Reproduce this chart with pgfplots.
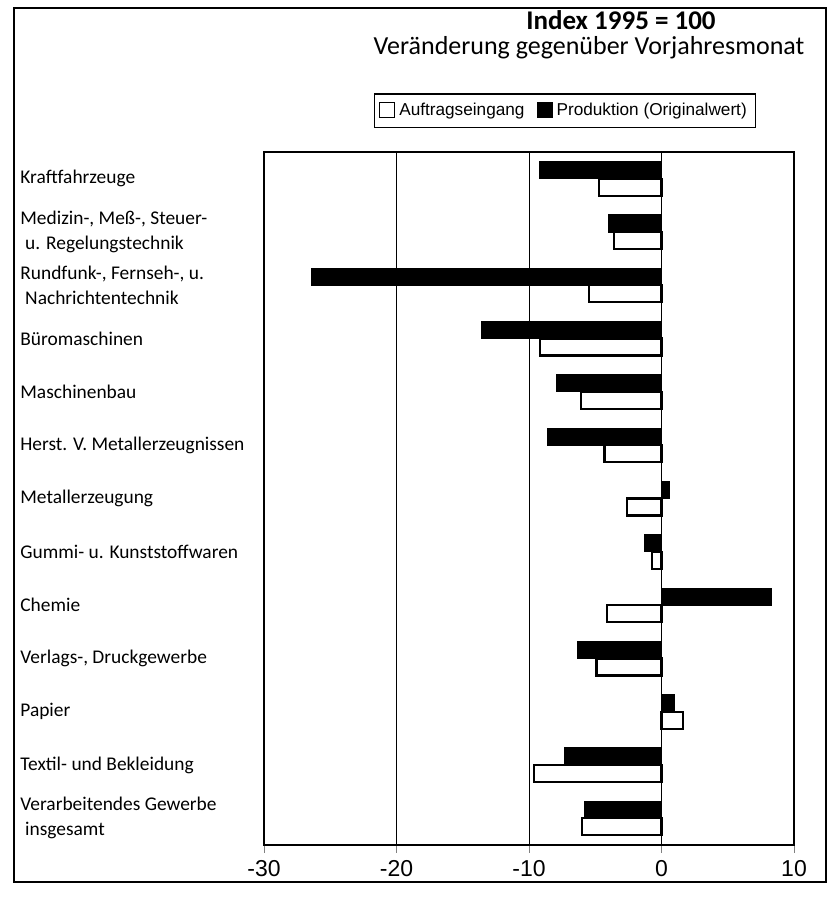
\documentclass[border=0pt]{standalone}
\usepackage{fontspec}
\setmainfont{Carlito}
\newfontfamily\arial{Liberation Sans}
\usepackage{pgfplots}
\pgfplotsset{compat=1.18}
\begin{document}
\begin{tikzpicture}
\begin{scope}[x=0.5pt,y=0.5pt]
\path (0,0) rectangle (834,903);
\draw[line width=1pt] (14,21) rectangle (826,895);
\node[font=\fontsize{13.5}{16}\selectfont\bfseries] at (621,883) {Index 1995 = 100};
\node[font=\fontsize{13}{15}\selectfont] at (589,855) {Veränderung gegenüber Vorjahresmonat};
\end{scope}
\begin{axis}[at={(132pt,29pt)}, anchor=south west, scale only axis,
  width=265pt, height=346.5pt,
  xbar, bar width=8.5pt,
  xmin=-30, xmax=10, ymin=-0.5, ymax=12.5,
  xtick={-30,-20,-10,0,10}, xticklabels={-30,-20,-10,0,10},
  xticklabel style={font=\arial\fontsize{11.5}{13}\selectfont},
  xtick pos=bottom, tick align=outside, major tick length=4pt,
  xmajorgrids, grid style={black, line width=0.5pt},
  ytick={0,...,12},
  yticklabels={{Verarbeitendes Gewerbe\\\hspace*{0.25em}insgesamt},
    {Textil- und Bekleidung},{Papier},{Verlags-, Druckgewerbe},{Chemie},
    {Gummi- u. Kunststoffwaren},{Metallerzeugung},{Herst. V. Metallerzeugnissen},
    {Maschinenbau},{Büromaschinen},
    {Rundfunk-, Fernseh-, u.\\\hspace*{0.25em}Nachrichtentechnik},
    {Medizin-, Meß-, Steuer-\\\hspace*{0.25em}u. Regelungstechnik},
    {Kraftfahrzeuge}},
  yticklabel style={font=\fontsize{9.7}{12.5}\selectfont, anchor=west,
    xshift=-118pt, inner sep=0pt, text width=122pt, align=flush left},
  ytick style={draw=none},
  axis line style={line width=1pt},
  legend style={at={(0.568,1)}, anchor=south, yshift=12pt, legend columns=2,
    font=\arial\fontsize{8.6}{10.5}\selectfont, draw=black, line width=0.6pt,
    inner sep=2.5pt,
    /tikz/every even column/.append style={column sep=4pt}},
  legend image code/.code={\draw[#1, line width=0.6pt] (0cm,-0.12cm) rectangle (0.26cm,0.14cm);},
]
\addplot[fill=white, draw=black, line width=1.1pt, bar shift=-4.25pt] coordinates {
 (-6.0,0) (-9.6,1) (1.6,2) (-4.9,3) (-4.1,4) (-0.7,5) (-2.6,6)
 (-4.3,7) (-6.1,8) (-9.2,9) (-5.5,10) (-3.6,11) (-4.7,12)};
\addlegendentry{Auftragseingang}
\addplot[fill=black, draw=black, line width=0.6pt, bar shift=4.25pt] coordinates {
 (-5.8,0) (-7.3,1) (1.0,2) (-6.3,3) (8.3,4) (-1.3,5) (0.6,6)
 (-8.6,7) (-7.9,8) (-13.6,9) (-26.4,10) (-4.0,11) (-9.2,12)};
\addlegendentry{Produktion (Originalwert)}
\pgfplotsinvokeforeach{0,...,11}{
  \draw[line width=0.6pt] (axis cs:0,#1+0.5) ++(-3.5pt,0) -- ++(7pt,0);
}
\end{axis}
\end{tikzpicture}
\end{document}
